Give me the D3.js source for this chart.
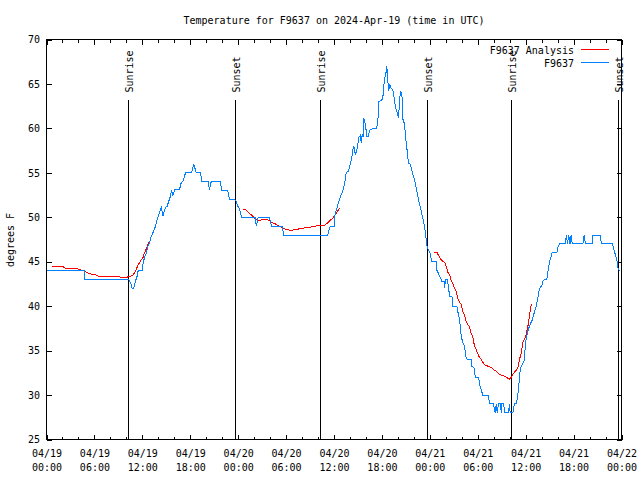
<!DOCTYPE html>
<html>
<head>
<meta charset="utf-8">
<script src="https://cdn.jsdelivr.net/npm/d3@7"></script>
<style>
html,body{margin:0;padding:0;background:#fff;}
svg{display:block;}
text{font-family:"DejaVu Sans Mono",monospace;font-size:10px;fill:#000;}
</style>
</head>
<body>
<svg id="chart" width="640" height="480"></svg>
<script>
// ---- data (hours after 2024-04-19 00:00 UTC, temperature in °F) ----
const titleText = "Temperature for F9637 on 2024-Apr-19 (time in UTC)";
const yLabel = "degrees F";
const seriesNames = ["F9637 Analysis", "F9637"];
const yTickValues = [25, 30, 35, 40, 45, 50, 55, 60, 65, 70];

const stationHours = [0.00,4.72,4.80,10.31,10.64,10.73,10.93,11.14,11.36,11.48,11.98,12.11,12.31,12.52,12.68,12.90,13.06,13.24,13.49,13.65,13.86,14.06,14.27,14.40,14.56,14.74,14.90,15.11,15.31,15.53,15.65,15.82,16.03,16.65,16.87,17.07,17.41,18.12,18.32,18.44,18.59,18.75,19.28,19.45,20.25,20.41,20.62,21.75,21.95,22.70,22.92,23.54,23.73,23.92,24.17,24.42,26.17,26.26,26.51,27.92,28.17,29.51,29.71,35.22,35.52,36.03,36.06,36.35,36.69,37.10,37.32,37.53,37.82,38.03,38.23,38.36,38.48,38.69,38.91,39.11,39.28,39.41,39.53,39.66,39.73,39.94,40.11,40.32,40.45,40.86,41.32,41.49,41.61,42.11,42.20,42.36,42.54,42.61,42.74,42.86,42.99,43.14,43.36,43.54,43.70,43.91,44.08,44.24,44.37,44.52,44.64,44.83,44.95,45.12,45.33,45.52,45.71,45.87,46.12,46.37,46.62,46.87,47.12,47.37,47.55,47.62,47.74,48.05,48.25,48.88,48.90,49.34,49.50,49.78,49.84,49.96,50.21,50.34,50.50,50.84,50.88,51.38,51.50,51.72,51.93,52.13,52.34,52.55,52.68,53.18,53.26,53.59,53.68,54.10,54.26,54.63,55.35,55.47,55.97,56.19,56.31,56.44,56.60,56.85,56.94,57.01,57.26,57.35,57.85,57.97,58.06,58.39,58.60,58.85,59.01,59.14,59.27,59.44,59.79,59.94,60.07,60.27,60.61,60.77,61.02,61.32,61.52,61.73,62.02,62.15,62.36,62.65,62.77,62.90,63.07,63.32,63.90,64.02,64.24,64.95,65.11,65.24,65.40,65.55,65.70,65.83,67.16,67.33,67.49,68.37,68.41,69.33,69.50,70.84,71.00,71.16,71.34,71.47,71.59,71.82];
const stationTemps = [44,44,43,43,42.4,42,42,42.8,43.4,44,44,44.9,45.6,46,46.75,47.1,47.7,48.1,48.6,49,49.75,50.3,50.9,51.1,50.1,50.7,51.1,51.25,51.8,52.4,53.05,52.4,53.1,53.1,53.9,54,55,55,55.5,56,55.5,55,55,54,54,53.1,54,54,53,53,52,52,51.8,51.3,51,50,50,49,50,50,49,49,48,48,49,49,50,51,52,53,53.7,55,55.2,56,56.7,57.6,58,57,57.8,59,59.2,58.4,59.3,59,61.2,60.4,59.1,59.1,59.8,60,60,60.8,63,63.3,64.6,65.7,66.4,67,65.3,64.2,65,64.5,64.4,63.4,62.3,61.8,61.2,63.5,64.2,63.5,61,60.5,59.1,57.8,56.1,56,55.5,54.8,54.1,52.9,51.8,50.9,49.9,48.8,47.5,46.9,46.5,45.9,45,45,44,43.2,42.8,42.8,42,43,43,42,41.1,41,40,40,39.4,38.5,36.6,35.9,35.5,34.2,34,34,33.25,33,32,32,31.1,30,30,29,29,28,29,28,29,29,28,29,29,28,28,29,28,28,29,29,30,31,32.5,33.25,33.8,35.3,36.4,37.2,38.1,38.3,39.1,40,40.9,42,42.3,42.8,43,43,43.75,44.5,45.25,46,46,46.6,47,47,48,47,48,47,48,47,47,48,47,47,48,48,47,47,46.6,46,45.5,44.9,44.1,44];

const analysisHours = [0.66,1.21,2.04,2.25,2.67,3.92,4.13,4.76,5.05,5.60,6.22,6.64,9.14,9.35,9.98,10.18,10.61,10.81,11.02,11.23,11.43,11.65,11.86,12.06,12.27,12.48,12.68,12.84,null,24.67,25.01,25.42,25.76,26.05,26.33,26.58,26.88,27.30,27.71,27.92,28.14,28.55,28.96,29.39,29.80,30.22,30.64,31.05,31.68,32.31,32.93,33.56,34.18,34.81,35.10,35.44,35.85,36.28,36.60,36.81,null,48.58,48.92,49.09,49.34,49.62,49.84,50.05,50.25,50.46,50.68,50.88,51.09,51.30,51.50,51.72,51.93,52.13,52.34,52.55,52.76,52.97,53.18,53.38,53.59,53.81,54.22,54.43,54.63,54.84,55.26,55.68,56.10,56.43,56.72,57.14,57.56,57.97,58.19,58.39,58.60,58.81,59.01,59.23,59.44,59.65,59.86,60.07,60.19,60.36,60.48,60.69,60.81];
const analysisTemps = [44.4,44.5,44.5,44.3,44.2,44.2,44.1,44.0,43.8,43.6,43.5,43.3,43.3,43.2,43.2,43.3,43.4,43.5,43.75,44.1,44.6,44.9,45.2,45.4,46,46.4,46.9,47.2,null,50.9,50.8,50.4,50.2,49.9,49.7,49.6,49.7,49.7,49.7,49.6,49.45,49.3,49.1,48.9,48.7,48.6,48.5,48.6,48.7,48.8,48.85,49.0,49.05,49.05,49.3,49.6,49.9,50.4,50.9,51.1,null,46,46,45.7,45.3,45.06,44.95,44.5,43.8,43.56,42.9,42.6,42,41.7,40.9,40.4,40.2,39.4,39.06,38.3,37.9,37.7,36.9,36.6,35.5,35.1,34.2,34,33.7,33.4,33.25,33.1,32.8,32.6,32.3,32.2,32.0,31.8,32.0,32.3,32.6,32.8,33.0,34,34.75,35.9,36.3,36.8,37.4,38.1,39.06,40.1,40.2];

const sunEventHours = [10.18, 23.58, 34.22, 47.65, 58.19, 71.62];
const sunEventNames = ["Sunrise", "Sunset", "Sunrise", "Sunset", "Sunrise", "Sunset"];

// ---- drawing ----
const start = Date.UTC(2024, 3, 19, 0, 0);
const toDate = h => new Date(start + h * 3600e3);
const svg = d3.select("#chart");
const L = 46.5, R = 621.5, T = 39.5, B = 439.5;

const x = d3.scaleUtc().domain([toDate(0), toDate(72)]).range([L, R]);
const y = d3.scaleLinear().domain([25, 70]).range([B, T]);

// title
svg.append("text").attr("x", 334).attr("y", 24).attr("text-anchor", "middle").text(titleText);
// y label
svg.append("text").attr("transform", "translate(13.5,240) rotate(-90)").attr("text-anchor", "middle").text(yLabel);

// axes
const majorTicks = d3.utcHour.every(6);
const minorTicks = d3.utcHour.every(2);
const fmtDate = d3.utcFormat("%m/%d"), fmtTime = d3.utcFormat("%H:%M");

const gx = svg.append("g").attr("transform", `translate(0,${B})`)
  .call(d3.axisBottom(x).ticks(majorTicks).tickSizeInner(-5).tickSizeOuter(0).tickFormat(""));
gx.selectAll(".tick text").each(function(d){
  const t = d3.select(this).attr("y", null).attr("dy", null);
  t.append("tspan").attr("x", 0).attr("y", 17.5).text(fmtDate(d));
  t.append("tspan").attr("x", 0).attr("y", 31.5).text(fmtTime(d));
});
svg.append("g").attr("transform", `translate(0,${B})`)
  .call(d3.axisBottom(x).ticks(minorTicks).tickSizeInner(-3).tickSizeOuter(0).tickFormat(""));
svg.append("g").attr("transform", `translate(0,${T})`)
  .call(d3.axisTop(x).ticks(majorTicks).tickSizeInner(-5).tickSizeOuter(0).tickFormat(""));
svg.append("g").attr("transform", `translate(0,${T})`)
  .call(d3.axisTop(x).ticks(minorTicks).tickSizeInner(-3).tickSizeOuter(0).tickFormat(""));

svg.append("g").attr("transform", `translate(${L},0)`)
  .call(d3.axisLeft(y).tickValues(yTickValues).tickSizeInner(-5).tickSizeOuter(0).tickPadding(6.5).tickFormat(d3.format("d")));
svg.append("g").attr("transform", `translate(${R},0)`)
  .call(d3.axisRight(y).tickValues(yTickValues).tickSizeInner(-5).tickSizeOuter(0).tickFormat(""));

svg.selectAll(".domain").remove();
svg.selectAll(".tick line").attr("stroke", "#000").attr("shape-rendering", "crispEdges");
svg.selectAll(".tick text").attr("font-family", "DejaVu Sans Mono").attr("font-size", 10).attr("fill", "#000");

// border
svg.append("rect").attr("x", L).attr("y", T).attr("width", R - L).attr("height", B - T)
  .attr("fill", "none").attr("stroke", "#000").attr("shape-rendering", "crispEdges");

// sunrise / sunset lines
const sun = svg.append("g");
sunEventHours.forEach((h, i) => {
  const px = Math.round(x(toDate(h))) + 0.5;
  sun.append("line").attr("x1", px).attr("x2", px).attr("y1", 99.5).attr("y2", B)
    .attr("stroke", "#000").attr("shape-rendering", "crispEdges");
  sun.append("text").attr("transform", `translate(${px + 4},92.5) rotate(-90)`)
    .attr("text-anchor", "start").text(sunEventNames[i]);
});

// series
const analysis = analysisHours.map((h, i) => ({h, v: analysisTemps[i]}));
const station = stationHours.map((h, i) => ({h, v: stationTemps[i]}));
const line = d3.line().defined(d => d.h !== null && d.v !== null)
  .x(d => x(toDate(d.h))).y(d => y(d.v));

const colors = ["#ff0000", "#0080ff"];
svg.append("path").datum(analysis).attr("d", line).attr("fill", "none").attr("stroke", colors[0]).attr("stroke-width", 1).attr("shape-rendering", "crispEdges");
svg.append("path").datum(station).attr("d", line).attr("fill", "none").attr("stroke", colors[1]).attr("stroke-width", 1).attr("shape-rendering", "crispEdges");

// legend
const leg = svg.append("g");
seriesNames.forEach((n, i) => {
  const ly = 49.5 + i * 13;
  leg.append("text").attr("x", 574).attr("y", ly + 4).attr("text-anchor", "end").text(n);
  leg.append("line").attr("x1", 581).attr("x2", 609).attr("y1", ly).attr("y2", ly)
    .attr("stroke", colors[i]).attr("shape-rendering", "crispEdges");
});
</script>
</body>
</html>
